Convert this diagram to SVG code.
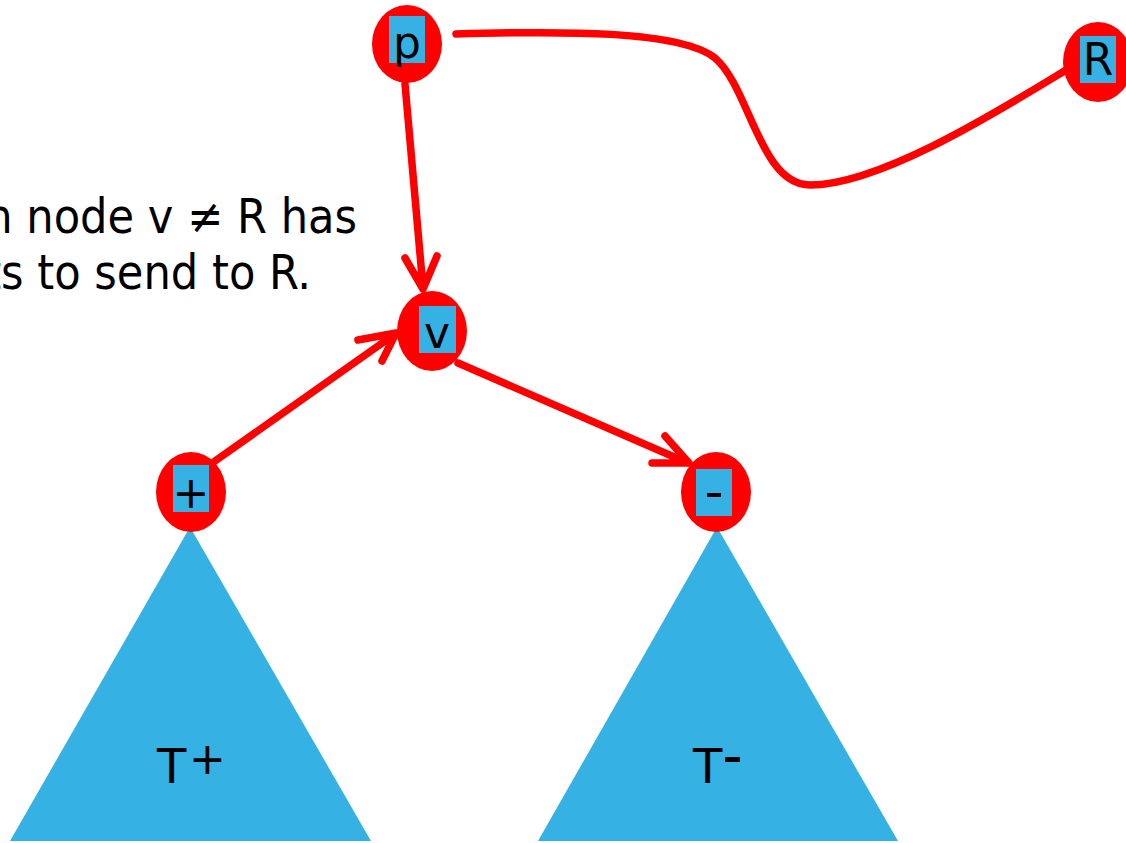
<svg xmlns="http://www.w3.org/2000/svg" width="1126" height="843" viewBox="0 0 1126 843">
<style>
.node{fill:#ff0000}
.box{fill:#36b1e3}
.lbl{font-family:"DejaVu Sans",sans-serif;font-size:44px;fill:#000;text-anchor:middle}
.tri{fill:#36b1e3}
.edge{fill:none;stroke:#ff0000;stroke-width:7.5;stroke-linecap:round;stroke-linejoin:round}
.txt{font-family:"DejaVu Sans Condensed","DejaVu Sans",sans-serif;font-size:48px;fill:#000;text-anchor:end}
</style>
<rect width="1126" height="843" fill="#fff"/>
<g id="caption">
<text class="txt" x="357" y="233">n node v ≠ R has</text>
<text class="txt" x="311" y="289">ts to send to R.</text>
</g>
<g id="tree-plus">
<polygon class="tri" points="190,527 10,841 371,841"/>
<text x="157" y="783" font-family="DejaVu Sans,sans-serif" font-size="48" fill="#000">T</text>
<text x="189" y="774" font-family="DejaVu Sans,sans-serif" font-size="44" fill="#000">+</text>
</g>
<g id="tree-minus">
<polygon class="tri" points="717,527 538,841 898,841"/>
<text x="693" y="783" font-family="DejaVu Sans,sans-serif" font-size="48" fill="#000">T</text>
<rect x="725" y="757" width="15" height="5" fill="#000"/>
</g>
<g id="connectors">
<path class="edge" d="M456,34 C560,31 680,30 715,58 C750,88 760,185 810,185 C880,185 1000,110 1066,70"/>
<path class="edge" d="M405,84 L423,288 M405,258 L423,289 L437,256"/>
<path class="edge" d="M215,461 L395,334 M358,340 L396,333 L382,361"/>
<path class="edge" d="M458,363 L688,463 M665,436 L689,463 L652,463"/>
</g>
<g id="node-p">
<ellipse class="node" cx="407" cy="44" rx="35" ry="39"/>
<rect class="box" x="389" y="16" width="36" height="47"/>
<text class="lbl" x="407" y="58">p</text>
</g>
<g id="node-R">
<ellipse class="node" cx="1098" cy="62" rx="35" ry="40"/>
<rect class="box" x="1080" y="36" width="36" height="47"/>
<text class="lbl" x="1098" y="75">R</text>
</g>
<g id="node-v">
<ellipse class="node" cx="432" cy="331" rx="35" ry="40"/>
<rect class="box" x="419" y="306" width="37" height="47"/>
<text class="lbl" x="437" y="348">v</text>
</g>
<g id="node-plus">
<ellipse class="node" cx="191" cy="492" rx="35" ry="40"/>
<rect class="box" x="173" y="465" width="36" height="47"/>
<text class="lbl" x="191" y="508">+</text>
</g>
<g id="node-minus">
<ellipse class="node" cx="716" cy="492" rx="35" ry="40"/>
<rect class="box" x="696" y="469" width="36" height="47"/>
<rect x="707" y="493" width="14" height="4" fill="#000"/>
</g>
</svg>
